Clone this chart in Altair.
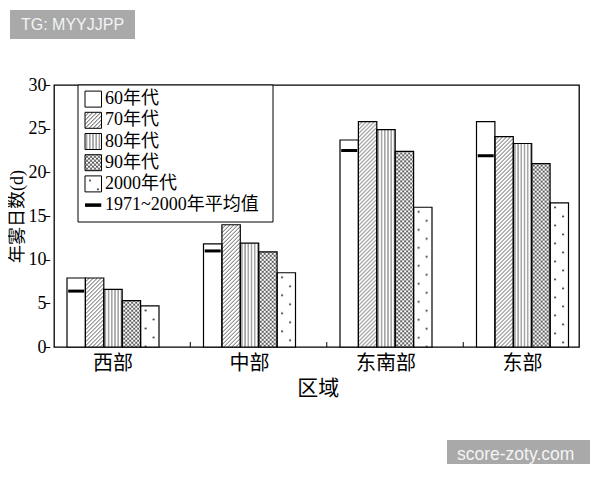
import base64
import altair as alt
import pandas as pd

# ---------------- data ----------------
regions = ["西部", "中部", "东南部", "东部"]
decades = ["60年代", "70年代", "80年代", "90年代", "2000年代"]
v60 = [7.9, 11.8, 23.7, 25.8]
v70 = [7.9, 14.0, 25.8, 24.1]
v80 = [6.6, 11.9, 24.9, 23.3]
v90 = [5.3, 10.9, 22.4, 21.0]
v2000 = [4.7, 8.5, 16.0, 16.5]
mean_71_00 = [6.4, 11.0, 22.5, 21.9]
mean_label = "1971~2000年平均值"
y_ticks = [0, 5, 10, 15, 20, 25, 30]
y_title = "年雾日数(d)"
x_title = "区域"
wm1 = "TG: MYYJJPP"
wm2 = "score-zoty.com"

# ---------------- layout / style ----------------
W, H = 525, 262
STEP = 136.5
GROUP_W = 92.0
BAR_W = GROUP_W / 5
PX_PER_UNIT = H / 30.0
kinds = {"60年代": "plain", "70年代": "diag", "80年代": "vert", "90年代": "cross", "2000年代": "dots"}
SERIF = "'Liberation Serif', 'Times New Roman', 'Noto Sans CJK SC', serif"
CJK = "'Noto Sans CJK SC'"


def tile(kind):
    s = 'stroke="#1a1a1a" stroke-width="0.7" fill="none"'
    if kind == "diag":
        return 4, 4, f'<path d="M-1,1 L1,-1 M0,4 L4,0 M3,5 L5,3" {s}/>'
    if kind == "vert":
        return 3.2, 10, f'<path d="M1.6,-1 L1.6,11" {s}/>'
    if kind == "cross":
        return 4, 4, (f'<path d="M-1,1 L1,-1 M0,4 L4,0 M3,5 L5,3 '
                      f'M-1,3 L1,5 M0,0 L4,4 M3,-1 L5,1" {s}/>')
    if kind == "dots":
        return 16, 18, ('<circle cx="5" cy="4.5" r="0.9" fill="#111"/>'
                        '<circle cx="13" cy="13.5" r="0.9" fill="#111"/>')
    return None


def svg_uri(kind, w, h):
    if kind == "line":
        body = f'<rect x="0" y="{h / 2 - 1.75}" width="{w}" height="3.5" fill="black"/>'
    else:
        body = f'<rect width="{w}" height="{h}" fill="white"/>'
        t = tile(kind)
        if t:
            tw, th, inner = t
            body += (f'<defs><pattern id="p" width="{tw}" height="{th}" '
                     f'patternUnits="userSpaceOnUse">{inner}</pattern></defs>'
                     f'<rect width="{w}" height="{h}" fill="url(#p)"/>')
    svg = (f'<svg xmlns="http://www.w3.org/2000/svg" width="{w}" height="{h}" '
           f'viewBox="0 0 {w} {h}">{body}</svg>')
    return "data:image/svg+xml;base64," + base64.b64encode(svg.encode()).decode()


rows = []
for i, r in enumerate(regions):
    for d, vals in zip(decades, [v60, v70, v80, v90, v2000]):
        v = vals[i]
        rows.append({"region": r, "decade": d, "value": v,
                     "url": svg_uri(kinds[d], round(BAR_W, 2), round(v * PX_PER_UNIT, 2))})
df = pd.DataFrame(rows)
mdf = pd.DataFrame({"region": regions, "decade": ["60年代"] * 4, "value": mean_71_00})
ddf = pd.DataFrame({"region": regions[:-1]})

x_scale = alt.Scale(domain=regions, range=[-9.25, W + 11.75], paddingInner=0, paddingOuter=0)
x_axis = alt.Axis(title=x_title, domain=False, ticks=False, grid=False, labelAngle=0,
                  labelFont=CJK, labelFontSize=20, labelColor="black", labelPadding=6,
                  titleFont=CJK, titleFontSize=21, titleFontWeight="normal",
                  titleColor="black", titlePadding=4)
x_enc = alt.X("region:N", sort=regions, scale=x_scale, axis=x_axis)
off_lo = (STEP - GROUP_W) / 2
xoff = alt.XOffset("decade:N", sort=decades,
                   scale=alt.Scale(domain=decades, range=[off_lo, off_lo + GROUP_W],
                                   paddingInner=0, paddingOuter=0))
y_axis = alt.Axis(values=y_ticks, title=y_title, domain=False, ticks=False,
                  grid=True, gridColor="black", gridDash=[5, 2000], gridWidth=1, gridOpacity=1,
                  labelFont=SERIF, labelFontSize=18, labelColor="black",
                  labelPadding=8, titleFont=SERIF, titleFontSize=18,
                  titleFontWeight="normal", titleColor="black", titlePadding=2)
y_enc = alt.Y("value:Q", scale=alt.Scale(domain=[0, 30], nice=False, zero=True), axis=y_axis)

images = alt.Chart(df).mark_image(aspect=False).encode(
    x=x_enc, xOffset=xoff, y=y_enc, y2=alt.datum(0), url="url:N")
outlines = alt.Chart(df).mark_bar(fillOpacity=0, stroke="black", strokeWidth=1.2).encode(
    x=x_enc, xOffset=xoff, y=y_enc, y2=alt.datum(0))
mean_ticks = alt.Chart(mdf).mark_tick(color="black", opacity=1, thickness=3, size=16,
                                      xOffset=-1, orient="horizontal").encode(
    x=x_enc, xOffset=xoff, y=y_enc)
dividers = alt.Chart(ddf).mark_rule(color="black", strokeWidth=1, xOffset=9).encode(
    x=alt.X("region:N", sort=regions, scale=x_scale, axis=x_axis, bandPosition=1),
    y=alt.value(H - 5), y2=alt.value(H))

main = alt.layer(images, outlines, mean_ticks, dividers)

# ---------------- legend ----------------
legend_labels = decades + [mean_label]
ldf = pd.DataFrame({"label": legend_labels,
                    "url": [svg_uri(kinds[d], 16.5, 16) for d in decades] + [svg_uri("line", 16.5, 16)]})
ly = alt.Y("label:N", sort=legend_labels,
           scale=alt.Scale(domain=legend_labels, range=[3.5, 130.7],
                           paddingInner=0.245, paddingOuter=0.1225),
           axis=None)
one = pd.DataFrame({"k": [0]})
legend_box = alt.Chart(one).mark_rect(fill="white", stroke="black", strokeWidth=1).encode(
    x=alt.value(24), x2=alt.value(219), y=alt.value(0), y2=alt.value(137))
legend_img = alt.Chart(ldf).mark_image(aspect=False).encode(
    x=alt.value(31), x2=alt.value(47.5), y=ly, url="url:N")
legend_border = alt.Chart(ldf.iloc[:5]).mark_rect(fillOpacity=0, stroke="black",
                                                   strokeWidth=1).encode(
    x=alt.value(31), x2=alt.value(47.5), y=ly)
legend_text = alt.Chart(ldf).mark_text(align="left", baseline="middle", fontSize=18,
                                       font=SERIF, color="black").encode(
    x=alt.value(51), y=ly, text="label:N")

# ---------------- watermarks ----------------
wm_box1 = alt.Chart(one).mark_rect(fill="#a9a9a9").encode(
    x=alt.value(-44), x2=alt.value(81), y=alt.value(-75), y2=alt.value(-46))
wm_txt1 = alt.Chart(pd.DataFrame({"t": [wm1]})).mark_text(
    align="left", baseline="middle", fontSize=16, font="Liberation Sans", color="#f4f4f4").encode(
    x=alt.value(-33), y=alt.value(-60), text="t:N")
wm_box2 = alt.Chart(one).mark_rect(fill="#a9a9a9").encode(
    x=alt.value(393), x2=alt.value(536), y=alt.value(355), y2=alt.value(384))
wm_txt2 = alt.Chart(pd.DataFrame({"t": [wm2]})).mark_text(
    align="left", baseline="middle", fontSize=17.5, font="Liberation Sans", color="#f4f4f4").encode(
    x=alt.value(403), y=alt.value(370), text="t:N")

legend = alt.layer(legend_box, legend_img, legend_border, legend_text,
                   wm_box1, wm_txt1, wm_box2, wm_txt2)

chart = alt.layer(main, legend).resolve_scale(y="independent").properties(
    width=W, height=H,
    autosize=alt.AutoSizeParams(type="none"),
    padding={"left": 46, "top": 77, "right": 13, "bottom": 117},
).configure_view(stroke="black", strokeWidth=1.3)

chart.save("out.html", embed_options={"renderer": "svg", "actions": False})
